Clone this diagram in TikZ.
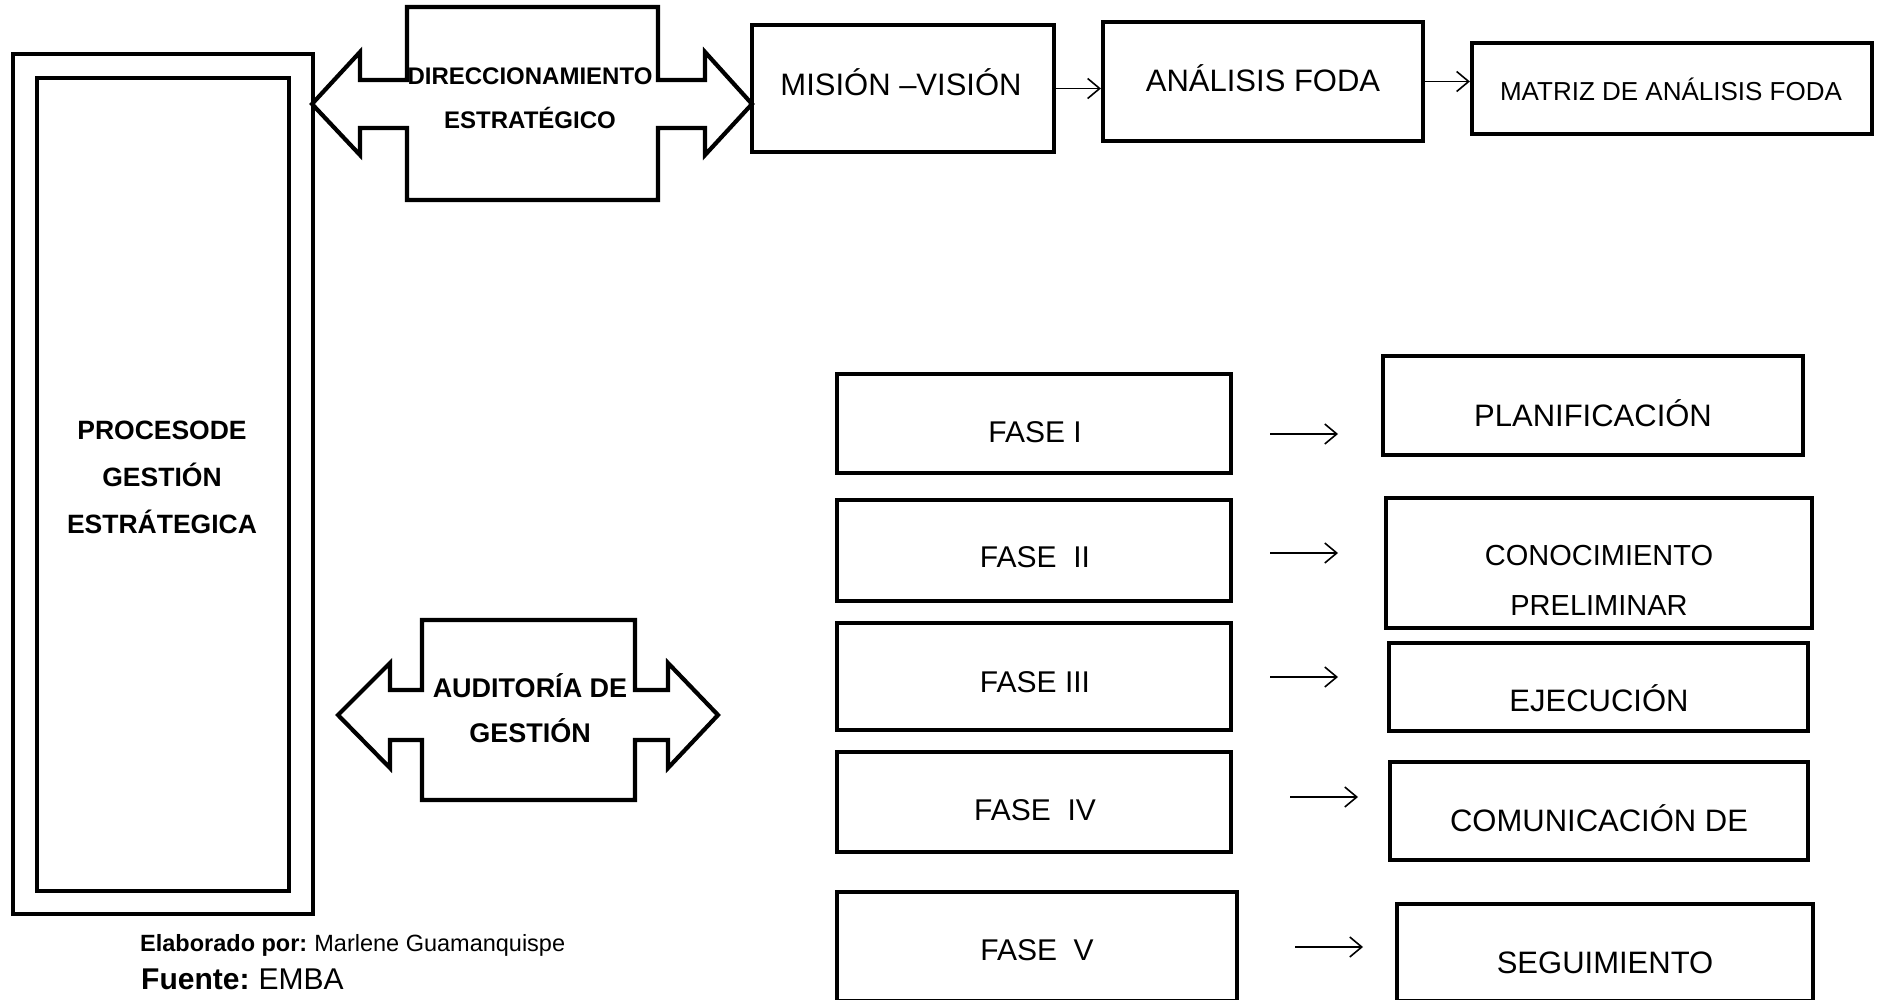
\documentclass[tikz,border=0pt]{standalone}
\usepackage{fontspec}
\setmainfont{Liberation Sans}
\usetikzlibrary{arrows.meta,fit}

\begin{document}
\begin{tikzpicture}[x=1pt,y=-1pt,
  box/.style={draw, line width=4.2pt, inner sep=0pt},
  outline/.style={draw, line width=4.2pt, line join=miter},
  txt/.style={inner sep=0pt, anchor=base},
  regtxt/.style={txt, font=\fontsize{31}{37}\selectfont},
  bldtxt/.style={txt, font=\bfseries\fontsize{#1}{#1}\selectfont},
  thinarrow/.style={line width=1.6pt, -{Straight Barb[length=12pt,width=20pt]}}
]
\useasboundingbox (0,0) rectangle (1878,999);

% left frame
\node[box, fit={(13,54) (313,914)}] (outer) {};
\node[box, fit={(37,78) (289,891)}] (inner) {};
\node[bldtxt=26.5] (proc1) at (162,439.5) {PROCESODE};
\node[bldtxt=26.5] (proc2) at (162,486) {GESTIÓN};
\node[bldtxt=26.5] (proc3) at (162,533) {ESTRÁTEGICA};

% double arrow callout: direccionamiento
\draw[outline] (312,104) -- (360,52) -- (360,80) -- (407,80) -- (407,7) -- (658,7)
  -- (658,80) -- (705,80) -- (705,52) -- (752,104) -- (705,155) -- (705,128)
  -- (658,128) -- (658,200) -- (407,200) -- (407,128) -- (360,128) -- (360,155) -- cycle;
\node[bldtxt=24] (dir1) at (530,84.6) {DIRECCIONAMIENTO};
\node[bldtxt=24] (dir2) at (530,128) {ESTRATÉGICO};

% double arrow callout: auditoria
\draw[outline] (338,715) -- (390,663) -- (390,690) -- (422,690) -- (422,620) -- (635,620)
  -- (635,690) -- (668,690) -- (668,663) -- (718,715) -- (668,768) -- (668,740)
  -- (635,740) -- (635,800) -- (422,800) -- (422,740) -- (390,740) -- (390,768) -- cycle;
\node[bldtxt=27] (aud1) at (530,697.7) {AUDITORÍA DE};
\node[bldtxt=27] (aud2) at (530,742.7) {GESTIÓN};

% top row
\node[box, fit={(752,25) (1054,152)}] (mision) {};
\node[regtxt] (misiontxt) at (901,95) {MISIÓN –VISIÓN};
\node[box, fit={(1103,22) (1423,141)}] (foda) {};
\node[regtxt] (fodatxt) at (1263,91) {ANÁLISIS FODA};
\node[box, fit={(1472,43) (1872,134)}] (matriz) {};
\node[txt, font=\fontsize{26}{31}\selectfont] (matriztxt) at (1671,100) {MATRIZ DE ANÁLISIS FODA};

\draw[thinarrow] (mision.east) -- (foda.west |- mision.east);
\draw[thinarrow] (foda.east) -- (matriz.west |- foda.east);

% phases
\node[box, fit={(837,374) (1231,473)}] (f1) {};
\node[box, fit={(837,500) (1231,601)}] (f2) {};
\node[box, fit={(837,623) (1231,730)}] (f3) {};
\node[box, fit={(837,752) (1231,852)}] (f4) {};
\node[box, fit={(837,892) (1237,1001)}] (f5) {};
\begin{scope}[font=\fontsize{30}{36}\selectfont]
\node[txt] (f1t) at (1035,442.7) {FASE I};
\node[txt] (f2t) at (1035,567.7) {FASE~~II};
\node[txt] (f3t) at (1035,692.7) {FASE III};
\node[txt] (f4t) at (1035,820.7) {FASE~~IV};
\node[txt] (f5t) at (1037,960.7) {FASE~~V};
\end{scope}

% results
\node[box, fit={(1383,356) (1803,455)}] (r1) {};
\node[regtxt] (r1t) at (1593,426) {PLANIFICACIÓN};
\node[box, fit={(1386,498) (1812,628)}] (r2) {};
\node[txt, font=\fontsize{29}{35}\selectfont] (r2a) at (1599,565.4) {CONOCIMIENTO};
\node[txt, font=\fontsize{29}{35}\selectfont] (r2b) at (1599,615.4) {PRELIMINAR};
\node[box, fit={(1389,643) (1808,731)}] (r3) {};
\node[regtxt] (r3t) at (1599,711) {EJECUCIÓN};
\node[box, fit={(1390,762) (1808,860)}] (r4) {};
\node[regtxt] (r4t) at (1599,831) {COMUNICACIÓN DE};
\node[box, fit={(1397,904) (1813,1001)}] (r5) {};
\node[regtxt] (r5t) at (1605,973) {SEGUIMIENTO};

% free-standing phase arrows
\coordinate (a1s) at (1270,434); \coordinate (a1e) at (1338,434);
\coordinate (a2s) at (1270,553); \coordinate (a2e) at (1338,553);
\coordinate (a3s) at (1270,677); \coordinate (a3e) at (1338,677);
\coordinate (a4s) at (1290,797); \coordinate (a4e) at (1358,797);
\coordinate (a5s) at (1295,947); \coordinate (a5e) at (1363,947);
\foreach \i in {1,...,5} \draw[thinarrow] (a\i s) -- (a\i e);

% footer
\node[txt, anchor=base west, font=\fontsize{23.5}{27}\selectfont] (elab) at (140,951)
  {\textbf{Elaborado por:}\hspace{0.3em}Marlene Guamanquispe};
\node[txt, anchor=base west, font=\fontsize{30}{35}\selectfont] (fuente) at (141,989)
  {\textbf{Fuente:}\hspace{0.3em}EMBA};
\end{tikzpicture}
\end{document}
